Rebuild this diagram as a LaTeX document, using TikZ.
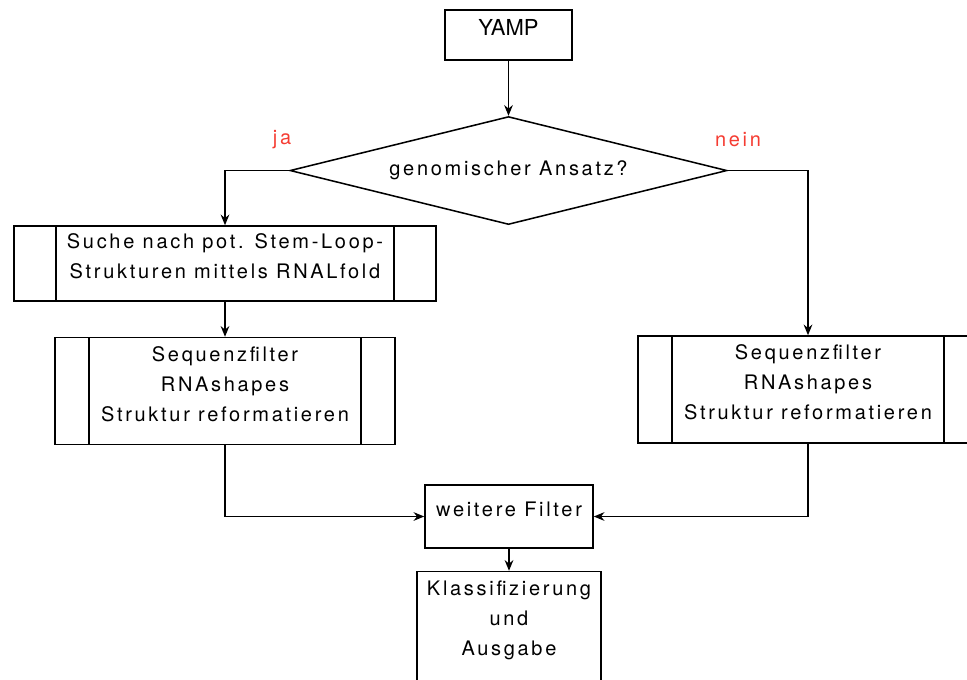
\documentclass[tikz,border=0pt]{standalone}
\usepackage{fontspec}
\setmainfont{TeX Gyre Heros}[LetterSpace=13.5]
\usetikzlibrary{positioning, arrows.meta, shapes.geometric}
\definecolor{labelred}{RGB}{245,60,50}
\newcommand\flowfont{\fontsize{15pt}{22.5pt}\selectfont}
\newcommand\titlefont{\fontsize{16.5pt}{20pt}\selectfont\addfontfeature{LetterSpace=0}}

\begin{document}
\begin{tikzpicture}[x=0.75pt, y=-0.75pt,
     line width = 1.15pt,
    every node/.style = {font=\flowfont, align=center},
          box/.style = {rectangle, draw, inner sep=2pt},
          dia/.style = {diamond, draw, aspect=4, inner sep=0pt,
                        minimum width=327.75pt, minimum height=81pt},
         proc/.style = {rectangle, draw, inner sep=2pt,
                        path picture={
                          \draw ([xshift=#1]path picture bounding box.north west)
                             -- ([xshift=#1]path picture bounding box.south west);
                          \draw ([xshift=-#1]path picture bounding box.north east)
                             -- ([xshift=-#1]path picture bounding box.south east);}},
         lbl/.style = {text=labelred},
         arr/.style = {-{Stealth[length=8pt, width=6.5pt]}}
                        ]
\useasboundingbox (0,0) rectangle (967,679);
\node (yamp)  [box, font=\titlefont, text depth=12pt,
               minimum width=95.25pt, minimum height=37.5pt] at (508.5,35) {YAMP};
\node (dec)   [dia, below=41.25pt of yamp] {genomischer Ansatz?};
\node (ja)    [lbl] at (282,140) {ja};
\node (nein)  [lbl] at (738,140) {nein};
\node (suche) [proc=31.5pt, text depth=11.25pt,
               minimum width=316.5pt, minimum height=56.25pt] at (225,263.5)
              {Suche nach pot. Stem-Loop-\\Strukturen mittels RNALfold};
\node (seqa)  [proc=25.5pt, text depth=10.5pt,
               minimum width=255pt, minimum height=80.25pt, below=26.25pt of suche]
              {Sequenzfilter\\RNAshapes\\Struktur reformatieren};
\node (seqb)  [proc=25.5pt, text depth=10.5pt,
               minimum width=255pt, minimum height=80.25pt] at (808,389.5)
              {Sequenzfilter\\RNAshapes\\Struktur reformatieren};
\node (filter)[box, text depth=11.25pt,
               minimum width=126pt, minimum height=47.25pt] at (509,516.5) {weitere Filter};
\node (klass) [box, text depth=22.5pt,
               minimum width=138pt, minimum height=93pt, below=16.5pt of filter]
              {Klassifizierung\\und\\Ausgabe};
\draw[arr] (yamp) to (dec);
\draw[arr] (dec.west) -| (suche);
\draw[arr] (dec.east) -| (seqb);
\draw[arr] (suche) to (seqa);
\draw[arr] (seqa) |- (filter);
\draw[arr] (seqb) |- (filter);
\draw[arr] (filter) to (klass);
\end{tikzpicture}
\end{document}
